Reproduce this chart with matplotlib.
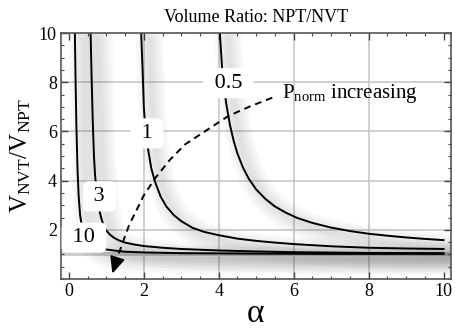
import numpy as np
import matplotlib
matplotlib.use("Agg")
import matplotlib.pyplot as plt
from matplotlib import patheffects as pe

plt.rcParams['font.family'] = ['Liberation Serif', 'DejaVu Serif']
plt.rcParams['mathtext.fontset'] = 'custom'
plt.rcParams['mathtext.rm'] = 'Liberation Serif'
plt.rcParams['mathtext.it'] = 'Liberation Serif'

# curves, one per P_norm
p_labels = ["0.5", "1", "3", "10"]
x_05 = [4.03, 4.1, 4.2, 4.3, 4.4, 4.5, 4.65, 4.8, 5.0, 5.25, 5.5, 5.8, 6.1, 6.5,
        7.0, 7.5, 8.0, 8.5, 9.0, 9.5, 10.0]
y_05 = [10.0, 8.34, 7.13, 6.26, 5.61, 5.10, 4.52, 4.08, 3.64, 3.25, 2.95, 2.69, 2.48, 2.28,
        2.09, 1.95, 1.84, 1.76, 1.69, 1.63, 1.58]
x_1 = [1.93, 1.97, 2.0, 2.05, 2.1, 2.2, 2.3, 2.45, 2.6, 2.8, 3.0, 3.3, 3.6, 4.0, 4.5,
       5.0, 5.5, 6.0, 7.0, 8.0, 9.0, 10.0]
y_1 = [10.0, 8.4, 7.0, 6.0, 5.4, 4.5, 3.95, 3.35, 2.95, 2.6, 2.35, 2.08, 1.92, 1.78, 1.64,
       1.55, 1.48, 1.42, 1.33, 1.27, 1.24, 1.22]
x_3 = [0.58, 0.61, 0.64, 0.67, 0.7, 0.75, 0.8, 0.86, 0.92, 1.0, 1.1, 1.2, 1.35, 1.5,
       1.75, 2.0, 2.5, 3.0, 4.0, 5.0, 6.0, 8.0, 10.0]
y_3 = [10.0, 8.0, 6.3, 5.0, 4.2, 3.4, 2.9, 2.5, 2.2, 1.97, 1.8, 1.68, 1.56, 1.48,
       1.4, 1.34, 1.27, 1.22, 1.16, 1.12, 1.09, 1.06, 1.05]
x_10 = [0.16, 0.18, 0.2, 0.23, 0.26, 0.3, 0.35, 0.4, 0.5, 0.6, 0.7, 0.82, 1.0, 1.25,
        1.5, 2.0, 3.0, 5.0, 7.0, 10.0]
y_10 = [10.0, 8.0, 6.3, 4.5, 3.4, 2.6, 2.1, 1.85, 1.6, 1.45, 1.36, 1.28, 1.2, 1.15,
        1.11, 1.08, 1.05, 1.03, 1.02, 1.02]

# where the labels sit on each curve
lab_x = [4.25, 2.08, 0.82, 0.40]
lab_y = [7.96, 5.92, 3.36, 1.68]

# dashed "P_norm increasing" arrow path
arr_x = [5.43, 4.84, 4.25, 3.1, 2.7, 2.31, 2.0, 1.79, 1.61, 1.48, 1.35, 1.27, 1.23]
arr_y = [7.37, 7.02, 6.62, 5.47, 4.85, 4.11, 3.4, 2.75, 2.2, 1.66, 1.11, 0.75, 0.55]
arr_tip = (1.16, 0.22)

grid_ticks = [2, 4, 6, 8]

fig = plt.figure(figsize=(4.55, 3.32), dpi=100)
ax = fig.add_axes([61/455, 1-279/332, (451-61)/455, (279-33)/332])

for g in grid_ticks:
    ax.axvline(g, color='#c4c4c4', lw=1.1, zorder=0)
    ax.axhline(g, color='#c4c4c4', lw=1.1, zorder=0)
ax.axhline(1, color='#cccccc', lw=2.8, zorder=0)

shadow = [pe.SimpleLineShadow(offset=(6, -5), shadow_color='k', alpha=0.022, linewidth=w)
          for w in (20, 16, 12, 8, 4)] + [pe.Normal()]

for xs, ys in ((x_05, y_05), (x_1, y_1), (x_3, y_3), (x_10, y_10)):
    ax.plot(xs, ys, color='k', lw=1.4, path_effects=shadow, zorder=2,
            solid_joinstyle='round')

ax.plot(arr_x, arr_y, color='k', lw=1.4, ls=(0, (3.5, 2.5)), zorder=3)
ax.annotate('', xy=arr_tip, xytext=(arr_x[-1], arr_y[-1]),
            arrowprops=dict(arrowstyle='-|>,head_length=1.0,head_width=0.45',
                            color='k', lw=1.4, shrinkA=0, shrinkB=0), zorder=3)

for t, lx, ly in zip(p_labels, lab_x, lab_y):
    ax.text(lx, ly, ' ' + t + ' ', fontsize=16, ha='center', va='center', zorder=5,
            bbox=dict(boxstyle='round,pad=0.25', fc='white', ec='none'))

ax.text(5.7, 7.55, r'P$_{\mathrm{norm}}$ increasing', fontsize=15,
        ha='left', va='center', zorder=5)

ax.set_xlim(-0.21, 10.2)
ax.set_ylim(0, 10)
ax.set_xticks([0, 2, 4, 6, 8, 10])
ax.set_yticks([2, 4, 6, 8, 10])
ax.set_xticks(np.arange(0, 10.01, 0.5), minor=True)
ax.set_yticks(np.arange(0, 10.01, 0.5), minor=True)
ax.tick_params(which='both', direction='in', top=True, right=True,
               color='#444444', labelsize=13, pad=3)
ax.tick_params(which='major', length=5, width=1)
ax.tick_params(which='minor', length=2.5, width=0.8)
for s in ax.spines.values():
    s.set_color('#555555')
    s.set_linewidth(1.2)

ax.set_title('Volume Ratio: NPT/NVT', fontsize=13, pad=8)
ax.set_xlabel('α', fontsize=24, labelpad=-1)
ax.set_ylabel(r'$\mathrm{V_{NVT}/V_{NPT}}$', fontsize=18, labelpad=4)

fig.savefig('out.png', dpi=100)
